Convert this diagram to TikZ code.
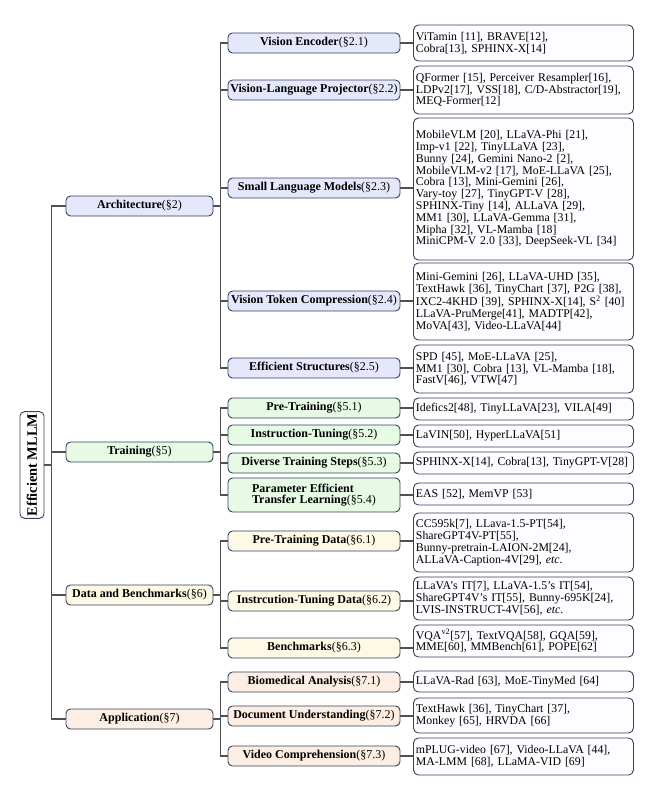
\documentclass[tikz,border=0pt]{standalone}
\usepackage{fontspec}
\setmainfont{Liberation Serif}
\definecolor{bordc}{HTML}{34435F}
\definecolor{connc}{HTML}{505050}
\definecolor{fblue}{HTML}{E5E8FB}
\definecolor{fgreen}{HTML}{E6FAE4}
\definecolor{fyellow}{HTML}{FEF9E4}
\definecolor{fpeach}{HTML}{FCEEE2}
\definecolor{fleaf}{HTML}{FDFCFF}
\tikzset{
  base/.style={draw=bordc, line width=0.9pt, rounded corners=4.5pt, font=\fontsize{12}{11.8}\selectfont, inner sep=2pt},
  rootbox/.style={base, fill=white, rotate=90, minimum width=106pt, minimum height=24pt, font=\fontsize{14.4}{15}\selectfont\bfseries},
  lvlone/.style={base, minimum width=147pt, minimum height=20pt},
  lvltwo/.style={base, minimum width=172pt, minimum height=20pt},
  leafbox/.style={base, fill=fleaf, rounded corners=5pt, anchor=west, text width=215pt, align=left, inner xsep=2.5pt, inner ysep=1pt, font=\fontsize{11.8}{11.8}\selectfont},
  conn/.style={draw=connc, line width=1.1pt},
}
\begin{document}
\begin{tikzpicture}[x=1pt,y=-1pt]
\useasboundingbox (0,0) rectangle (649,793);
% root
\node[rootbox] (root) at (32,465) {Efficient MLLM};
% level 1
\node[lvlone, fill=fblue] (arch) at (139.5,206) {\textbf{Architecture}(\S2)};
\node[lvlone, fill=fgreen] (train) at (139.5,452) {\textbf{Training}(\S5)};
\node[lvlone, fill=fyellow] (data) at (139.5,595) {\textbf{Data and Benchmarks}(\S6)};
\node[lvlone, fill=fpeach] (app) at (139.5,719) {\textbf{Application}(\S7)};
% level 2
\node[lvltwo, fill=fblue] (ve) at (314,43) {\textbf{Vision Encoder}(\S2.1)};
\node[lvltwo, fill=fblue] (vlp) at (314,90) {\textbf{Vision-Language Projector}(\S2.2)};
\node[lvltwo, fill=fblue] (slm) at (314,188) {\textbf{Small Language Models}(\S2.3)};
\node[lvltwo, fill=fblue] (vtc) at (314,301) {\textbf{Vision Token Compression}(\S2.4)};
\node[lvltwo, fill=fblue] (es) at (314,368) {\textbf{Efficient Structures}(\S2.5)};
\node[lvltwo, fill=fgreen] (pt) at (314,408) {\textbf{Pre-Training}(\S5.1)};
\node[lvltwo, fill=fgreen] (it) at (314,435) {\textbf{Instruction-Tuning}(\S5.2)};
\node[lvltwo, fill=fgreen] (dts) at (314,463) {\textbf{Diverse Training Steps}(\S5.3)};
\node[lvltwo, fill=fgreen, minimum height=34pt, align=left] (petl) at (314,495) {\textbf{Parameter Efficient}\\\textbf{Transfer Learning}(\S5.4)};
\node[lvltwo, fill=fyellow] (ptd) at (314,541) {\textbf{Pre-Training Data}(\S6.1)};
\node[lvltwo, fill=fyellow] (itd) at (314,601) {\textbf{Instrcution-Tuning Data}(\S6.2)};
\node[lvltwo, fill=fyellow] (bm) at (314,648) {\textbf{Benchmarks}(\S6.3)};
\node[lvltwo, fill=fpeach] (bio) at (314,682) {\textbf{Biomedical Analysis}(\S7.1)};
\node[lvltwo, fill=fpeach] (doc) at (314,716) {\textbf{Document Understanding}(\S7.2)};
\node[lvltwo, fill=fpeach] (vid) at (314,756) {\textbf{Video Comprehension}(\S7.3)};
% leaves
\node[leafbox, minimum height=36pt] (l1) at (413,43) {ViTamin [11], BRAVE[12],\\Cobra[13], SPHINX-X[14]};
\node[leafbox, minimum height=48pt] (l2) at (413,90) {QFormer [15], Perceiver Resampler[16],\\LDPv2[17], VSS[18], C/D-Abstractor[19],\\MEQ-Former[12]};
\node[leafbox, minimum height=142pt] (l3) at (413,189) {MobileVLM [20], LLaVA-Phi [21],\\Imp-v1 [22], TinyLLaVA [23],\\Bunny [24], Gemini Nano-2 [2],\\MobileVLM-v2 [17], MoE-LLaVA [25],\\Cobra [13], Mini-Gemini [26],\\Vary-toy [27], TinyGPT-V [28],\\SPHINX-Tiny [14], ALLaVA [29],\\MM1 [30], LLaVA-Gemma [31],\\Mipha [32], VL-Mamba [18]\\MiniCPM-V 2.0 [33], DeepSeek-VL [34]};
\node[leafbox, minimum height=77pt] (l4) at (413,301.5) {Mini-Gemini [26], LLaVA-UHD [35],\\TextHawk [36], TinyChart [37], P2G [38],\\IXC2-4KHD [39], SPHINX-X[14], S\textsuperscript{2} [40]\\LLaVA-PruMerge[41], MADTP[42],\\MoVA[43], Video-LLaVA[44]};
\node[leafbox, minimum height=48pt] (l5) at (413,369) {SPD [45], MoE-LLaVA [25],\\MM1 [30], Cobra [13], VL-Mamba [18],\\FastV[46], VTW[47]};
\node[leafbox, minimum height=22pt] (l6) at (413,409) {Idefics2[48], TinyLLaVA[23], VILA[49]};
\node[leafbox, minimum height=22pt] (l7) at (413,436) {LaVIN[50], HyperLLaVA[51]};
\node[leafbox, minimum height=22pt] (l8) at (413,463) {\mbox{SPHINX-X[14], Cobra[13], TinyGPT-V[28]}};
\node[leafbox, minimum height=22pt] (l9) at (413,494) {EAS [52], MemVP [53]};
\node[leafbox, minimum height=59pt] (l10) at (413,542.5) {CC595k[7], LLava-1.5-PT[54],\\ShareGPT4V-PT[55],\\Bunny-pretrain-LAION-2M[24],\\ALLaVA-Caption-4V[29], \textit{etc}.};
\node[leafbox, minimum height=43pt] (l11) at (413,598.5) {LLaVA's IT[7], LLaVA-1.5's IT[54],\\ShareGPT4V's IT[55], Bunny-695K[24],\\LVIS-INSTRUCT-4V[56], \textit{etc}.};
\node[leafbox, minimum height=32pt] (l12) at (413,641) {VQA\textsuperscript{v2}[57], TextVQA[58], GQA[59],\\MME[60], MMBench[61], POPE[62]};
\node[leafbox, minimum height=21pt] (l13) at (413,681.5) {LLaVA-Rad [63], MoE-TinyMed [64]};
\node[leafbox, minimum height=35pt] (l14) at (413,715.5) {TextHawk [36], TinyChart [37],\\Monkey [65], HRVDA [66]};
\node[leafbox, minimum height=37pt] (l15) at (413,756.5) {mPLUG-video [67], Video-LLaVA [44],\\MA-LMM [68], LLaMA-VID [69]};
% connectors root -> level 1
\foreach \n in {arch,train,data,app}
  \draw[conn] (root.south) -- ++(7,0) |- (\n.west);
% level 1 -> level 2
\foreach \n in {ve,vlp,slm,vtc,es} \draw[conn] (arch.east) -- ++(7,0) |- (\n.west);
\foreach \n in {pt,it,dts,petl} \draw[conn] (train.east) -- ++(7,0) |- (\n.west);
\foreach \n in {ptd,itd,bm} \draw[conn] (data.east) -- ++(7,0) |- (\n.west);
\foreach \n in {bio,doc,vid} \draw[conn] (app.east) -- ++(7,0) |- (\n.west);
% level 2 -> leaves
\foreach \a/\b in {ve/l1,vlp/l2,slm/l3,vtc/l4,es/l5,pt/l6,it/l7,dts/l8,petl/l9,ptd/l10,itd/l11,bm/l12,bio/l13,doc/l14,vid/l15}
  \draw[conn] (\a.east) -- (\a.east -| \b.west);
\end{tikzpicture}
\end{document}
